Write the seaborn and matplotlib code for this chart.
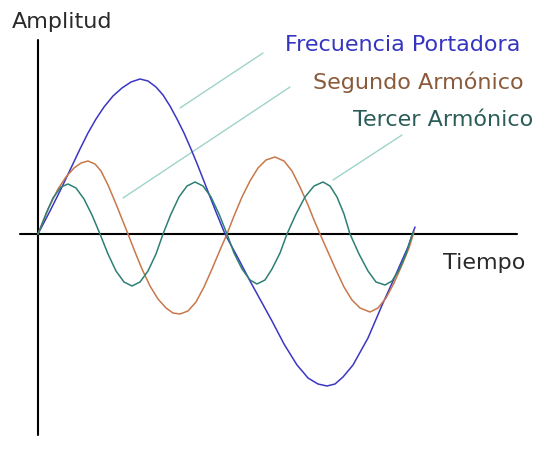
import numpy as np
import pandas as pd
import seaborn as sns
import matplotlib.pyplot as plt

# curves: time offset from the origin (px) and amplitude (px)
blue_t = [0, 12, 23, 33, 42, 50, 58, 66, 75, 84, 93, 102, 110, 118, 125, 132, 139, 146, 153, 160,
          169, 178, 187, 200, 212, 223, 234, 246, 259, 265, 270, 280, 289, 297, 305, 315, 330, 345,
          355, 362, 370, 377]
blue_y = [0, 23, 45, 66, 85, 101, 115, 127, 138, 146, 152, 155, 153, 147, 139, 128, 115, 101, 85, 68,
          45, 22, 0, -24, -47, -67, -87, -110, -131, -138, -144, -150, -152, -150, -143, -131, -104, -69,
          -47, -31, -13, 7]

orange_t = [0, 10, 20, 28, 36, 43, 50, 57, 63, 70, 78, 84, 90,
            97, 104, 112, 120, 128, 135, 142, 150, 158, 166, 174, 182, 189,
            196, 204, 212, 220, 228, 237, 246, 254, 262, 270, 276, 282,
            290, 298, 306, 314, 322, 332, 340, 348, 356, 364, 371, 376]
orange_y = [0, 25, 45, 57, 66, 71, 73, 70, 63, 49, 30, 15, 0,
            -18, -35, -52, -65, -74, -79, -80, -77, -68, -53, -35, -16, 0,
            18, 37, 53, 66, 74, 77, 73, 63, 47, 29, 14, 0,
            -18, -36, -53, -66, -74, -78, -74, -64, -49, -31, -14, 2]

teal_t = [0, 8, 15, 23, 30, 38, 46, 54, 62,
          70, 78, 86, 94, 102, 110, 118, 125,
          133, 141, 149, 157, 165, 173, 181, 189,
          196, 204, 212, 219, 227, 234, 242, 249,
          258, 267, 276, 285, 292, 299, 306, 312,
          321, 330, 338, 347, 354, 361, 368, 375]
teal_y = [0, 20, 36, 47, 50, 46, 35, 19, 0,
          -20, -37, -48, -52, -48, -37, -20, 0,
          20, 37, 48, 52, 48, 37, 20, 0,
          -19, -35, -46, -50, -46, -35, -19, 0,
          20, 37, 48, 52, 48, 37, 20, 0,
          -20, -37, -48, -51, -47, -36, -20, 2]

series_names = ["Frecuencia Portadora", "Segundo Armónico", "Tercer Armónico"]
line_colors = ["#3b36c4", "#c8784a", "#2e7f74"]
text_colors = ["#3535c0", "#8a5a3a", "#2a5c58"]

# leader lines: label end -> curve end
leaders = [((225, 181), (142, 126)),
           ((252, 147), (85, 36)),
           ((364, 99), (295, 54))]

df = pd.concat([
    pd.DataFrame({"t": blue_t, "y": blue_y, "serie": series_names[0]}),
    pd.DataFrame({"t": orange_t, "y": orange_y, "serie": series_names[1]}),
    pd.DataFrame({"t": teal_t, "y": teal_y, "serie": series_names[2]}),
], ignore_index=True)

sns.set_style("white")
plt.rcParams['font.family'] = ['DejaVu Sans']

fig = plt.figure(figsize=(5.36, 4.55), dpi=100)
ax = fig.add_axes([0, 0, 1, 1])
ax.set_xlim(-38, 498)
ax.set_ylim(-221, 234)
ax.axis("off")

# axes lines
ax.plot([-18, 479], [0, 0], color="black", lw=1.5, zorder=1)
ax.plot([0, 0], [-201, 194], color="black", lw=1.5, zorder=1)

# leader lines
for (x0, y0), (x1, y1) in leaders:
    ax.plot([x0, x1], [y0, y1], color="#9fd3cb", lw=1.0, zorder=1)

sns.lineplot(data=df, x="t", y="y", hue="serie", palette=line_colors, sort=False,
             estimator=None, legend=False, lw=1.1, ax=ax, zorder=3)

fs = 16
ax.text(-26, 212, "Amplitud", fontsize=fs, ha="left", va="center", color="#2a2a2a")
ax.text(405, -29, "Tiempo", fontsize=fs, ha="left", va="center", color="#2a2a2a")
ax.text(482, 189, series_names[0], fontsize=fs, ha="right", va="center", color=text_colors[0])
ax.text(486, 152, series_names[1], fontsize=fs, ha="right", va="center", color=text_colors[1])
ax.text(495, 114, series_names[2], fontsize=fs, ha="right", va="center", color=text_colors[2])

fig.savefig("out.png", dpi=100)
